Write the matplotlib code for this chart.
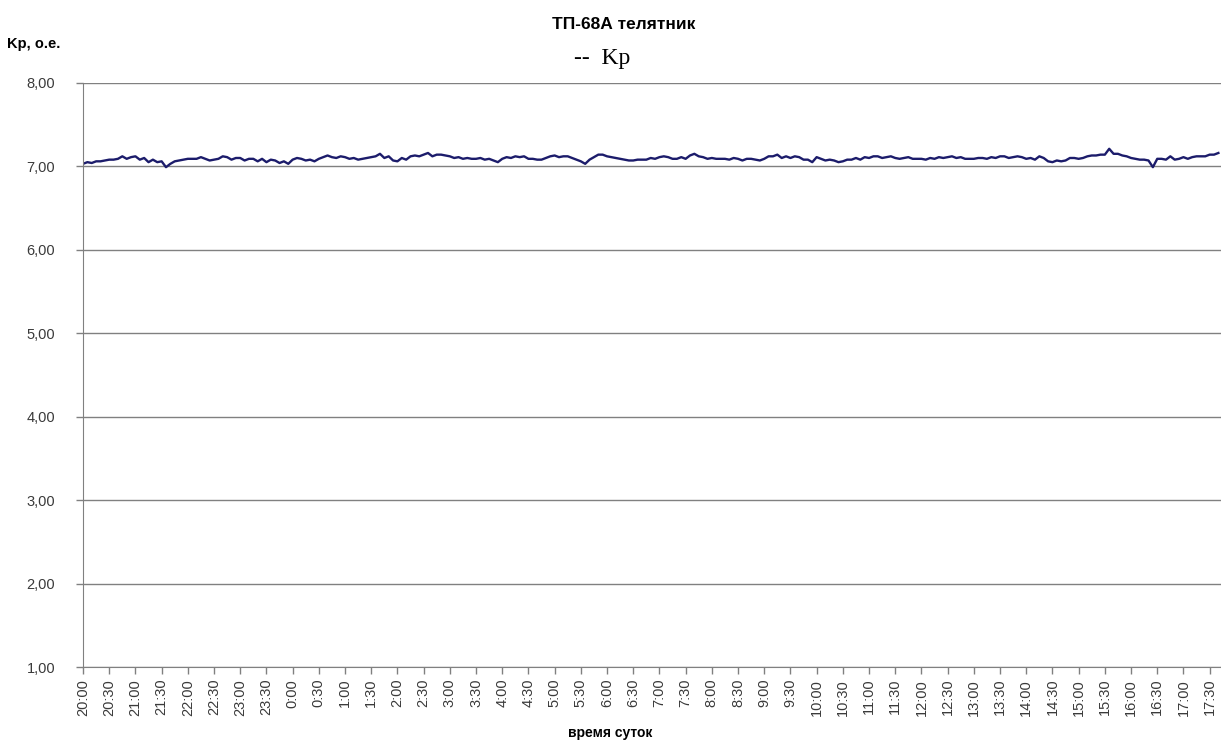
import matplotlib.pyplot as plt

# Kp values, one reading every 5 minutes starting at 20:00
step_min = 5
kp = [
    7.03, 7.05, 7.04, 7.06, 7.06, 7.07, 7.08, 7.08, 7.09, 7.12, 7.09, 7.11,  # 20:00
    7.12, 7.08, 7.10, 7.05, 7.08, 7.05, 7.06, 6.99, 7.03, 7.06, 7.07, 7.08,  # 21:00
    7.09, 7.09, 7.09, 7.11, 7.09, 7.07, 7.08, 7.09, 7.12, 7.11, 7.08, 7.10,  # 22:00
    7.10, 7.07, 7.09, 7.09, 7.06, 7.09, 7.05, 7.08, 7.07, 7.04, 7.06, 7.03,  # 23:00
    7.08, 7.10, 7.09, 7.07, 7.08, 7.06, 7.09, 7.11, 7.13, 7.11, 7.10, 7.12,  # 0:00
    7.11, 7.09, 7.10, 7.08, 7.09, 7.10, 7.11, 7.12, 7.15, 7.10, 7.12, 7.07,  # 1:00
    7.06, 7.10, 7.08, 7.12, 7.13, 7.12, 7.14, 7.16, 7.12, 7.14, 7.14, 7.13,  # 2:00
    7.12, 7.10, 7.11, 7.09, 7.10, 7.09, 7.09, 7.10, 7.08, 7.09, 7.07, 7.05,  # 3:00
    7.09, 7.11, 7.10, 7.12, 7.11, 7.12, 7.09, 7.09, 7.08, 7.08, 7.10, 7.12,  # 4:00
    7.13, 7.11, 7.12, 7.12, 7.10, 7.08, 7.06, 7.03, 7.08, 7.11, 7.14, 7.14,  # 5:00
    7.12, 7.11, 7.10, 7.09, 7.08, 7.07, 7.07, 7.08, 7.08, 7.08, 7.10, 7.09,  # 6:00
    7.11, 7.12, 7.11, 7.09, 7.09, 7.11, 7.09, 7.13, 7.15, 7.12, 7.11, 7.09,  # 7:00
    7.10, 7.09, 7.09, 7.09, 7.08, 7.10, 7.09, 7.07, 7.09, 7.09, 7.08, 7.07,  # 8:00
    7.09, 7.12, 7.12, 7.14, 7.10, 7.12, 7.10, 7.12, 7.11, 7.08, 7.08, 7.05,  # 9:00
    7.11, 7.09, 7.07, 7.08, 7.07, 7.05, 7.06, 7.08, 7.08, 7.10, 7.08, 7.11,  # 10:00
    7.10, 7.12, 7.12, 7.10, 7.11, 7.12, 7.10, 7.09, 7.10, 7.11, 7.09, 7.09,  # 11:00
    7.09, 7.08, 7.10, 7.09, 7.11, 7.10, 7.11, 7.12, 7.10, 7.11, 7.09, 7.09,  # 12:00
    7.09, 7.10, 7.10, 7.09, 7.11, 7.10, 7.12, 7.12, 7.10, 7.11, 7.12, 7.11,  # 13:00
    7.09, 7.10, 7.08, 7.12, 7.10, 7.06, 7.05, 7.07, 7.06, 7.07, 7.10, 7.10,  # 14:00
    7.09, 7.10, 7.12, 7.13, 7.13, 7.14, 7.14, 7.21, 7.15, 7.15, 7.13, 7.12,  # 15:00
    7.10, 7.09, 7.08, 7.08, 7.07, 6.99, 7.09, 7.09, 7.08, 7.12, 7.08, 7.09,  # 16:00
    7.11, 7.09, 7.11, 7.12, 7.12, 7.12, 7.14, 7.14, 7.16,                    # 17:00
]

tick_labels = [
    "20:00", "20:30", "21:00", "21:30", "22:00", "22:30", "23:00", "23:30",
    "0:00", "0:30", "1:00", "1:30", "2:00", "2:30", "3:00", "3:30",
    "4:00", "4:30", "5:00", "5:30", "6:00", "6:30", "7:00", "7:30",
    "8:00", "8:30", "9:00", "9:30", "10:00", "10:30", "11:00", "11:30",
    "12:00", "12:30", "13:00", "13:30", "14:00", "14:30", "15:00", "15:30",
    "16:00", "16:30", "17:00", "17:30",
]
y_ticks = [1, 2, 3, 4, 5, 6, 7, 8]

plt.rcParams['font.family'] = ['Liberation Sans', 'DejaVu Sans']

minutes = [i * step_min for i in range(len(kp))]
tick_pos = [i * 30 for i in range(len(tick_labels))]

fig = plt.figure(figsize=(12.21, 7.40), dpi=100)
ax = fig.add_axes([0.068, 0.0986, 0.932, 0.7894])

ax.plot(minutes, kp, color='#1c1c6b', linewidth=1.7)

ax.set_xlim(0, 1303)
ax.set_ylim(1, 8)
ax.set_yticks(y_ticks)
ax.set_yticklabels([f"{v:.2f}".replace('.', ',') for v in y_ticks])
ax.set_xticks(tick_pos)
ax.set_xticklabels(tick_labels, rotation=90)
ax.tick_params(axis='both', colors='#808080', labelcolor='#3a3a3a',
               labelsize=10.5, length=5, width=1)
ax.tick_params(axis='y', pad=15)

ax.grid(axis='y', color='#808080', linewidth=1)
ax.set_axisbelow(True)
for side in ['top', 'right']:
    ax.spines[side].set_visible(False)
for side in ['left', 'bottom']:
    ax.spines[side].set_color('#808080')

fig.text(0.511, 0.967, "ТП-68А телятник", ha='center', va='center',
         fontsize=12.5, fontweight='bold')
fig.text(0.493, 0.921, "--  Kp", ha='center', va='center',
         fontsize=17, family='Liberation Serif')
fig.text(0.006, 0.94, "Kp, o.e.", ha='left', va='center',
         fontsize=10.5, fontweight='bold')
fig.text(0.5, 0.009, "время суток", ha='center', va='center',
         fontsize=10, fontweight='bold')

plt.savefig("out.png", dpi=100)
